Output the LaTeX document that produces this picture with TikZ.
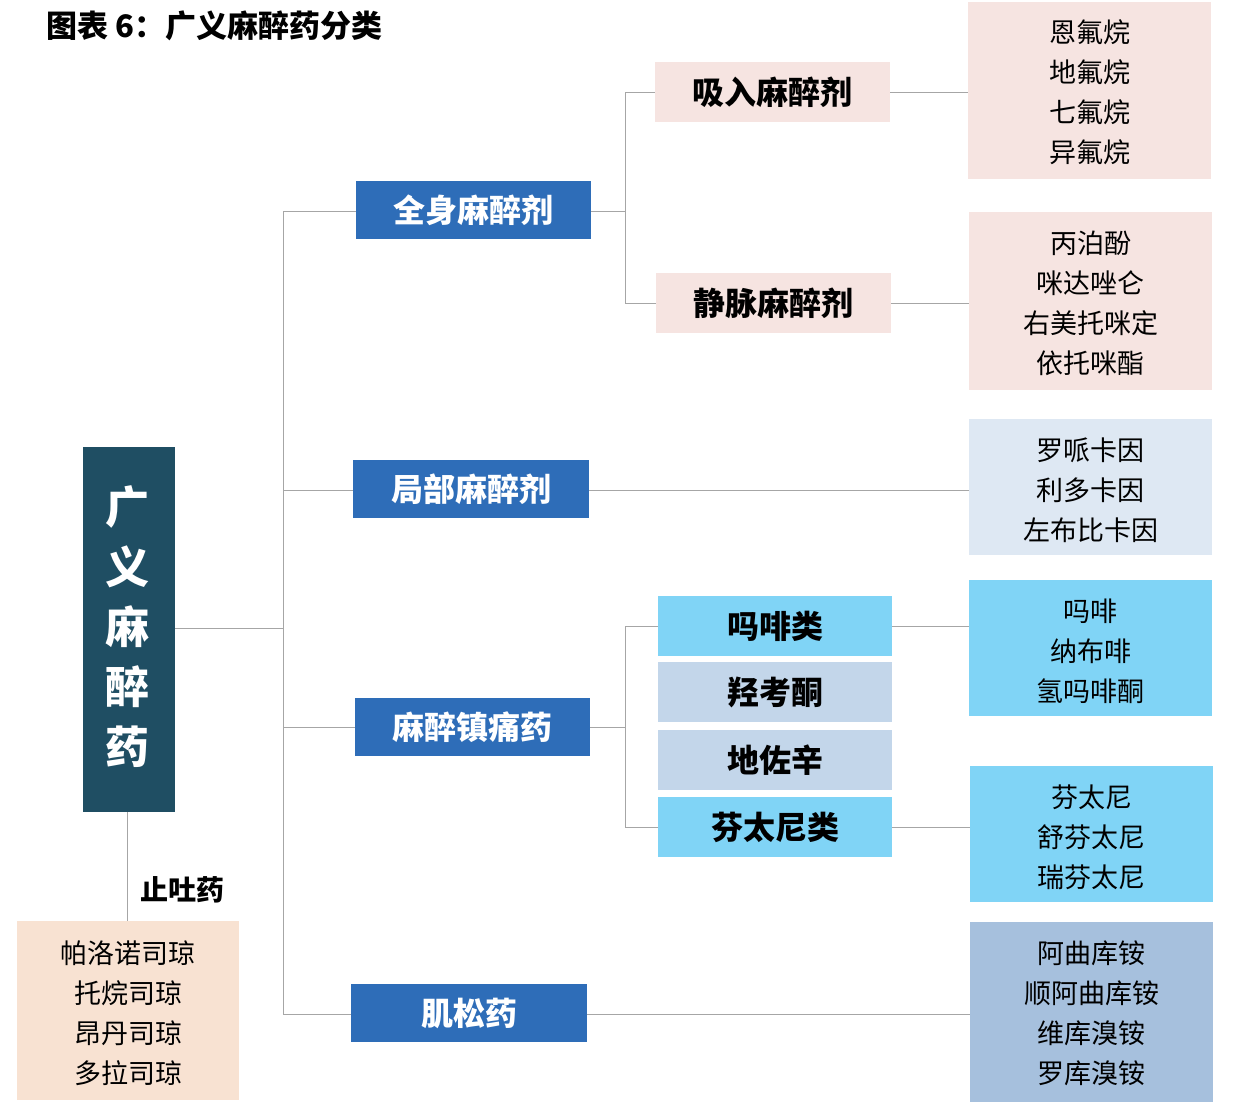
\documentclass[tikz,border=0pt]{standalone}
\usepackage{fontspec}
\setmainfont{Noto Sans CJK SC}
\definecolor{dteal}{HTML}{1F4E63}
\definecolor{mblue}{HTML}{2E6DB8}
\definecolor{lpink}{HTML}{F6E4E1}
\definecolor{lcyan}{HTML}{80D4F6}
\definecolor{lgb}{HTML}{C3D6EA}
\definecolor{pgray}{HTML}{DEE8F3}
\definecolor{steel}{HTML}{A6C0DD}
\definecolor{peach}{HTML}{F8E2D2}
\definecolor{ln}{HTML}{A6A6A6}
\begin{document}
\begin{tikzpicture}[x=1pt,y=-1pt,
  bx/.style={inner sep=0pt,align=center},
  lvtwo/.style={fill=mblue,text=white,font=\fontsize{32}{36}\selectfont\bfseries},
  lvthree/.style={font=\fontsize{32}{36}\selectfont\bfseries},
  leaf/.style={font=\fontsize{27}{40}\selectfont},
  con/.style={draw=ln,line width=1pt}]
\useasboundingbox (0,0) rectangle (1234,1104);
\fill[white] (0,0) rectangle (1234,1104);
\node[anchor=west,font=\fontsize{31}{34}\selectfont\bfseries] (title) at (43,26) {图表 6：广义麻醉药分类};
% main
\fill[dteal] (83,447) rectangle (175,812);
\node[text=white,font=\fontsize{44}{60}\selectfont\bfseries,align=center] (main) at (127,627) {广\\义\\麻\\醉\\药};
\coordinate (mainR) at (175,628);
\coordinate (mainB) at (127,812);
% level 2
\fill[mblue] (356,181) rectangle (591,239);
\node[lvtwo] (qs) at (473.5,210) {全身麻醉剂};
\fill[mblue] (353,460) rectangle (589,518);
\node[lvtwo] (jb) at (471,489) {局部麻醉剂};
\fill[mblue] (355,698) rectangle (590,756);
\node[lvtwo] (zt) at (472.5,727) {麻醉镇痛药};
\fill[mblue] (351,984) rectangle (587,1042);
\node[lvtwo] (js) at (469,1013) {肌松药};
% level 3
\fill[lpink] (655,62) rectangle (890,122);
\node[lvthree] (xr) at (772.5,92) {吸入麻醉剂};
\fill[lpink] (656,273) rectangle (891,333);
\node[lvthree] (jm) at (773.5,303) {静脉麻醉剂};
\fill[lcyan] (658,596) rectangle (892,656);
\node[lvthree] (mf) at (775,626) {吗啡类};
\fill[lgb] (658,662) rectangle (892,722);
\node[lvthree] (qk) at (775,692) {羟考酮};
\fill[lgb] (658,730) rectangle (892,790);
\node[lvthree] (dz) at (775,760) {地佐辛};
\fill[lcyan] (658,797) rectangle (892,857);
\node[lvthree] (ft) at (775,827) {芬太尼类};
% leaves
\fill[lpink] (968,2) rectangle (1211,179);
\node[leaf,align=center] (l1) at (1089.5,92) {恩氟烷\\地氟烷\\七氟烷\\异氟烷};
\fill[lpink] (969,212) rectangle (1212,390);
\node[leaf,align=center] (l2) at (1090.5,303) {丙泊酚\\咪达唑仑\\右美托咪定\\依托咪酯};
\fill[pgray] (969,419) rectangle (1212,555);
\node[leaf,align=center] (l3) at (1090.5,490) {罗哌卡因\\利多卡因\\左布比卡因};
\fill[lcyan] (969,580) rectangle (1212,716);
\node[leaf,align=center] (l4) at (1090.5,651) {吗啡\\纳布啡\\氢吗啡酮};
\fill[lcyan] (970,766) rectangle (1213,902);
\node[leaf,align=center] (l5) at (1091.5,837) {芬太尼\\舒芬太尼\\瑞芬太尼};
\fill[steel] (970,922) rectangle (1213,1102);
\node[leaf,align=center] (l6) at (1091.5,1013) {阿曲库铵\\顺阿曲库铵\\维库溴铵\\罗库溴铵};
\fill[peach] (17,921) rectangle (239,1100);
\node[leaf,align=center] (l7) at (128,1013) {帕洛诺司琼\\托烷司琼\\昂丹司琼\\多拉司琼};
\coordinate (l7T) at (127,921);
% connectors
\coordinate (t1) at (283,211);
\coordinate (t2) at (283,1014);
\draw[con] (t1) -- (t2);
\draw[con] (mainR) -- (283,628);
\draw[con] (t1) -- (356,211);
\draw[con] (283,490) -- (353,490);
\draw[con] (283,727) -- (355,727);
\draw[con] (t2) -- (351,1014);
\draw[con] (591,211) -- (625,211);
\draw[con] (625,92) -- (625,303);
\draw[con] (625,92) -- (655,92);
\draw[con] (625,303) -- (656,303);
\draw[con] (590,727) -- (625,727);
\draw[con] (625,626) -- (625,827);
\draw[con] (625,626) -- (658,626);
\draw[con] (625,827) -- (658,827);
\draw[con] (890,92) -- (968,92);
\draw[con] (891,303) -- (969,303);
\draw[con] (589,490) -- (969,490);
\draw[con] (892,626) -- (969,626);
\draw[con] (892,827) -- (970,827);
\draw[con] (587,1014) -- (970,1014);
\draw[con] (mainB) -- (l7T);
\node[font=\fontsize{28}{30}\selectfont\bfseries] (zt2) at (182,890) {止吐药};
\end{tikzpicture}
\end{document}
